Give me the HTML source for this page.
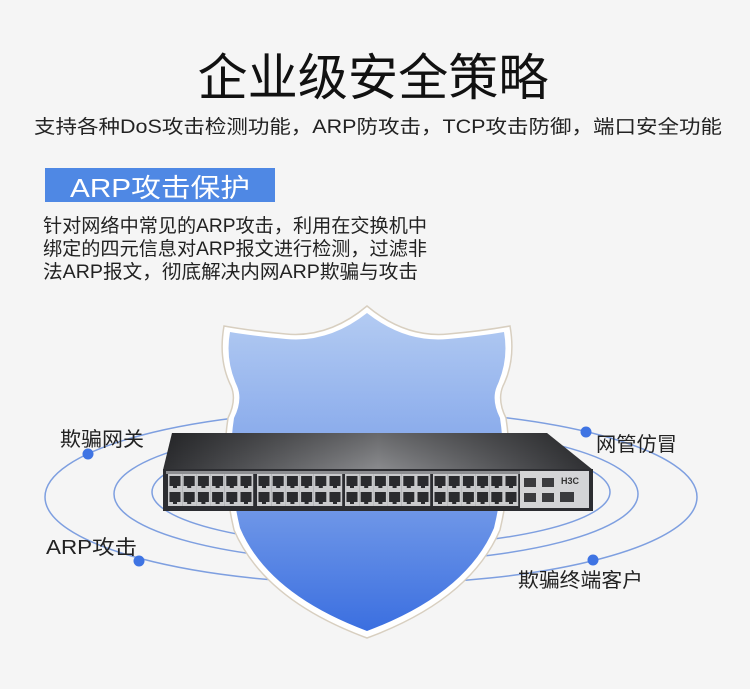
<!DOCTYPE html>
<html><head><meta charset="utf-8"><style>
html,body{margin:0;padding:0;background:#f5f5f5;}
svg{display:block;}
text{font-family:"Liberation Sans","Noto Sans CJK SC",sans-serif;}
</style></head><body>
<svg width="750" height="689" viewBox="0 0 750 689" xmlns="http://www.w3.org/2000/svg">
<defs>
<linearGradient id="sh" x1="0" y1="0" x2="0" y2="1">
<stop offset="0" stop-color="#b3cbf2"/><stop offset="0.5" stop-color="#7fa3ea"/><stop offset="1" stop-color="#3b6fe0"/>
</linearGradient>
<linearGradient id="top" x1="0" y1="0" x2="1" y2="0">
<stop offset="0" stop-color="#2f3033"/><stop offset="0.5" stop-color="#8a8b8e"/><stop offset="1" stop-color="#2f3033"/>
</linearGradient>
<linearGradient id="topv" x1="0" y1="0" x2="0" y2="1">
<stop offset="0" stop-color="#000" stop-opacity="0.25"/><stop offset="1" stop-color="#000" stop-opacity="0"/>
</linearGradient>
<g id="port"><rect x="0" y="0" width="14.2" height="16" fill="#c9cacc"/><rect x="1.5" y="2" width="11" height="10" fill="#2a2b2e"/><rect x="5" y="11" width="4" height="3" fill="#2a2b2e"/></g>
<g id="col"><use href="#port"/><use href="#port" y="16"/></g>
<g id="grp"><use href="#col"/><use href="#col" x="14.2"/><use href="#col" x="28.4"/><use href="#col" x="42.6"/><use href="#col" x="56.8"/><use href="#col" x="71"/></g>
</defs>
<rect width="750" height="689" fill="#f5f5f5"/>

<text x="373" y="95" font-size="50" text-anchor="middle" textLength="351" lengthAdjust="spacingAndGlyphs" fill="#111">企业级安全策略</text>
<text x="34" y="133" font-size="19" textLength="688" lengthAdjust="spacingAndGlyphs" fill="#222">支持各种DoS攻击检测功能，ARP防攻击，TCP攻击防御，端口安全功能</text>

<rect x="45" y="168" width="230" height="34" fill="#4f88e4"/>
<text x="70" y="197" font-size="26" textLength="180" lengthAdjust="spacingAndGlyphs" fill="#fff">ARP攻击保护</text>
<text x="43" y="232" font-size="19" textLength="384" lengthAdjust="spacingAndGlyphs" fill="#222">针对网络中常见的ARP攻击，利用在交换机中</text>
<text x="43" y="255" font-size="19" textLength="384" lengthAdjust="spacingAndGlyphs" fill="#222">绑定的四元信息对ARP报文进行检测，过滤非</text>
<text x="43" y="278" font-size="19" textLength="375" lengthAdjust="spacingAndGlyphs" fill="#222">法ARP报文，彻底解决内网ARP欺骗与攻击</text>

<g fill="none" stroke="#7e9fe0" stroke-width="1.5">
<ellipse cx="371" cy="497" rx="326" ry="87"/>
<ellipse cx="376" cy="494" rx="262" ry="68"/>
<ellipse cx="381" cy="492" rx="229" ry="54"/>
</g>

<path d="M367,306 Q405,338 448,334 Q482,331 510,326 Q516,360 503,386 Q497,400 506,418 Q514,470 500,530 Q470,600 367,638 Q264,600 234,530 Q220,470 228,418 Q237,400 231,386 Q218,360 224,326 Q252,331 286,334 Q329,338 367,306 Z" fill="#fff" stroke="#d8cfc0" stroke-width="1.5"/>
<path d="M367,313 Q405,343 448,339 Q480,336 504,332 Q509,360 497,386 Q491,400 500,418 Q508,470 494,528 Q466,594 367,631 Q268,594 240,528 Q226,470 234,418 Q243,400 237,386 Q225,360 230,332 Q254,336 286,339 Q329,343 367,313 Z" fill="url(#sh)"/>

<polygon points="172,433 547,433 593,470 163,470" fill="url(#top)"/>
<polygon points="172,433 547,433 593,470 163,470" fill="url(#topv)"/>
<rect x="163" y="469" width="430" height="42" fill="#2c2d31"/>
<rect x="166" y="471" width="423" height="3" fill="#8d8e91"/>
<use href="#grp" x="168" y="474"/>
<use href="#grp" x="257" y="474"/>
<use href="#grp" x="345" y="474"/>
<use href="#grp" x="433" y="474"/>
<rect x="520" y="471" width="69" height="37" fill="#d3d4d6"/>
<rect x="524" y="478" width="12" height="9" fill="#3a3b3e"/>
<rect x="542" y="478" width="12" height="9" fill="#3a3b3e"/>
<rect x="524" y="493" width="12" height="9" fill="#3a3b3e"/>
<rect x="542" y="493" width="12" height="9" fill="#3a3b3e"/>
<rect x="560" y="492" width="14" height="10" fill="#3a3b3e"/>
<text x="561" y="484" font-size="9" font-weight="bold" fill="#333" font-family="Liberation Serif,serif">H3C</text>

<g fill="#3f74e3">
<circle cx="88" cy="454" r="5.5"/><circle cx="586" cy="432" r="5.5"/>
<circle cx="139" cy="561" r="5.5"/><circle cx="593" cy="560" r="5.5"/>
</g>
<g font-size="20" fill="#222">
<text x="60" y="446" textLength="84" lengthAdjust="spacingAndGlyphs">欺骗网关</text>
<text x="46" y="554" textLength="91" lengthAdjust="spacingAndGlyphs">ARP攻击</text>
<text x="596" y="451" textLength="81" lengthAdjust="spacingAndGlyphs">网管仿冒</text>
<text x="518" y="587" textLength="125" lengthAdjust="spacingAndGlyphs">欺骗终端客户</text>
</g>
</svg>
</body></html>
